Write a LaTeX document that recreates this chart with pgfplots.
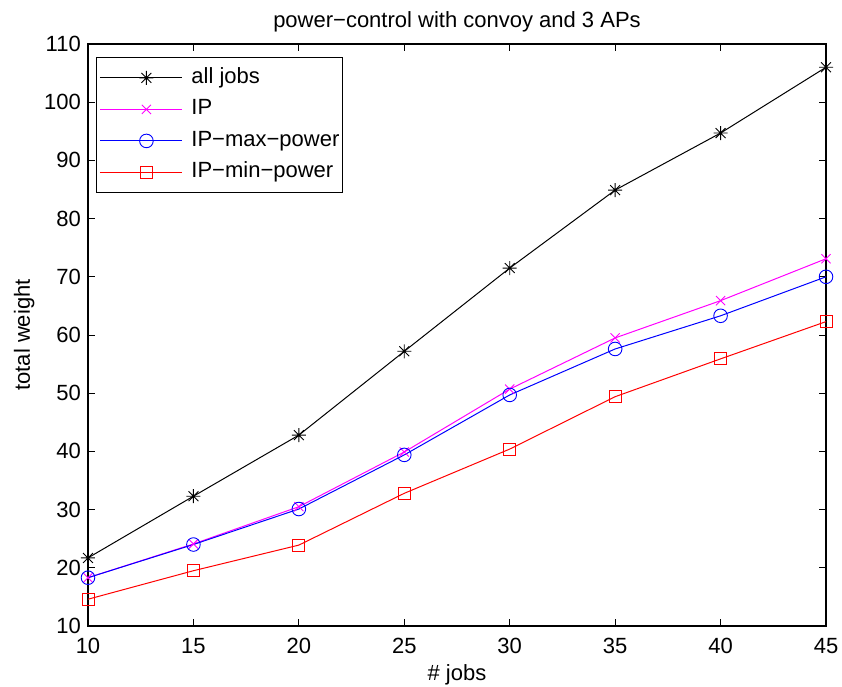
\documentclass[border=0pt]{standalone}
\usepackage{fontspec}
\setmainfont{Liberation Sans}
\usepackage{pgfplots}
\pgfplotsset{compat=1.18}

\definecolor{ipmag}{rgb}{1,0,1}

% eight-spoke star: a plus and a cross laid over each other
\pgfdeclareplotmark{spoke8}{%
  \pgfpathmoveto{\pgfqpoint{-\pgfplotmarksize}{0pt}}%
  \pgfpathlineto{\pgfqpoint{\pgfplotmarksize}{0pt}}%
  \pgfpathmoveto{\pgfqpoint{0pt}{-\pgfplotmarksize}}%
  \pgfpathlineto{\pgfqpoint{0pt}{\pgfplotmarksize}}%
  \pgfpathmoveto{\pgfqpoint{-0.707\pgfplotmarksize}{-0.707\pgfplotmarksize}}%
  \pgfpathlineto{\pgfqpoint{0.707\pgfplotmarksize}{0.707\pgfplotmarksize}}%
  \pgfpathmoveto{\pgfqpoint{-0.707\pgfplotmarksize}{0.707\pgfplotmarksize}}%
  \pgfpathlineto{\pgfqpoint{0.707\pgfplotmarksize}{-0.707\pgfplotmarksize}}%
  \pgfusepathqstroke}

% total weight against number of jobs, one column per scheme
\pgfplotstableread{
n  all    ip    ipmax  ipmin
10 21.7   18.3  18.3   14.6
15 32.3   24.1  24.0   19.5
20 42.8   30.5  30.1   23.9
25 57.2   39.9  39.4   32.8
30 71.5   50.7  49.7   40.4
35 84.9   59.5  57.6   49.4
40 94.7   65.9  63.3   55.9
45 106.0  73.1  70.0   62.3
}\weights

\newcommand{\chartfont}{\fontsize{22}{26}\selectfont}

\begin{document}
\begin{tikzpicture}
\begin{axis}[
  scale only axis,
  width=738pt, height=582pt,
  xmin=10, xmax=45, ymin=10, ymax=110,
  xtick={10,15,...,45},
  ytick={10,20,...,110},
  tick align=inside,
  major tick length=7pt,
  axis line style={line width=1.3pt},
  every tick/.style={black, line width=0.9pt},
  /pgf/number format/assume math mode=true,
  tick label style={font=\chartfont},
  xticklabel style={anchor=base, inner sep=0pt, yshift=-27pt},
  yticklabel style={anchor=east, inner sep=0pt, xshift=-7pt},
  title={power−control with convoy and 3 APs},
  title style={font=\chartfont, at={(0.5,1)}, anchor=base, yshift=10pt},
  xlabel={\# jobs},
  xlabel style={font=\chartfont, at={(0.5,0)}, anchor=base, yshift=-54pt},
  ylabel={total weight},
  ylabel style={font=\chartfont, at={(-0.0786,0.5)}, anchor=base, rotate=0},
  legend cell align=left,
  legend style={at={(0.0108,0.9777)}, anchor=north west, draw=black,
    line width=0.9pt, font=\chartfont,
    inner xsep=3pt, inner ysep=10pt,
    row sep=10.5pt, column sep=9pt,
    nodes={inner sep=0pt, text height=16pt, text depth=5pt}},
  legend image code/.code={%
    \path (0pt,0pt) -- (82pt,0pt);
    \draw[mark repeat=2, mark phase=2, line width=1pt]
      plot coordinates {(11pt,0pt) (46.5pt,0pt) (82pt,0pt)};},
]
\addplot[black, line width=1pt, mark=spoke8, mark size=7pt,
  mark options={line width=0.9pt}] table[x=n, y=all] {\weights};
\addlegendentry{all jobs}
\addplot[ipmag, line width=1pt, mark=x, mark size=6.5pt,
  mark options={line width=0.9pt}] table[x=n, y=ip] {\weights};
\addlegendentry{IP}
\addplot[blue, line width=1pt, mark=o, mark size=6.8pt,
  mark options={line width=0.9pt}] table[x=n, y=ipmax] {\weights};
\addlegendentry{IP−max−power}
\addplot[red, line width=1pt, mark=square, mark size=6pt,
  mark options={line width=0.9pt}] table[x=n, y=ipmin] {\weights};
\addlegendentry{IP−min−power}
\coordinate (bl) at (rel axis cs:0,0);
\coordinate (tr) at (rel axis cs:1,1);
\end{axis}
\pgfresetboundingbox
\path ([xshift=-88pt,yshift=-60pt]bl) rectangle ([xshift=16pt,yshift=44pt]tr);
\end{tikzpicture}
\end{document}
